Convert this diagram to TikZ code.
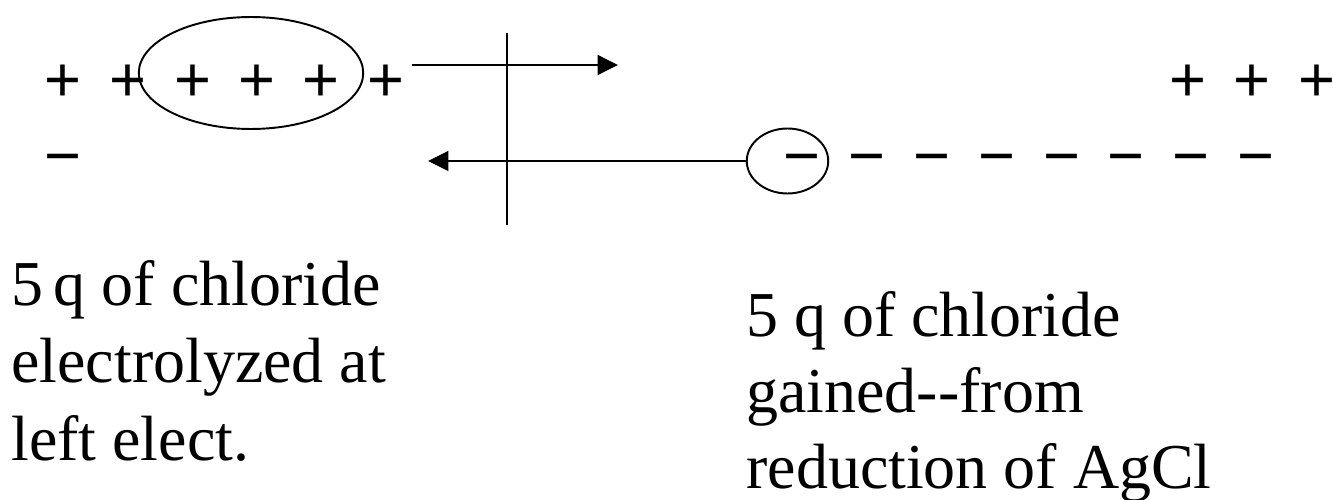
\documentclass[tikz,border=0pt]{standalone}
\usepackage{fontspec}
\setmainfont{Liberation Serif}
\newfontfamily\chargefont{Liberation Sans}
\usetikzlibrary{arrows.meta, shapes.geometric}

\begin{document}
\begin{tikzpicture}[x=0.02cm, y=-0.02cm,
    charge/.style={inner sep=0pt, anchor=base, font=\chargefont\fontsize{36}{40}\selectfont},
    ring/.style={draw, line width=1.1pt, ellipse, inner sep=0pt},
    flow/.style={line width=1.1pt, -{Triangle[length=0.41cm, width=0.4cm]}},
    note/.style={inner sep=0pt, align=left, anchor=base west}]
    \useasboundingbox (0,0) rectangle (1333,500);
    % charges (placed by baseline)
    \foreach \x [count=\i] in {63,128,193,257,321,386}
        \node[charge] (pl\i) at (\x,102) {+};
    \foreach \x [count=\i] in {1188,1252,1317}
        \node[charge] (pr\i) at (\x,102) {+};
    \node[charge] (ml) at (63,177.5) {−};
    \foreach \x [count=\i] in {802,867,932,997,1062,1126,1191,1256}
        \node[charge] (mr\i) at (\x,177.5) {−};
    % groups that move
    \node[ring, minimum width=4.49cm, minimum height=2.24cm] (grp) at (251,73) {};
    \node[ring, minimum width=1.63cm, minimum height=1.3cm] (one) at (787.5,161) {};
    % boundary and arrows
    \coordinate (top) at (507,33);
    \coordinate (bot) at (507,225);
    \draw[line width=1.1pt] (top) -- (bot);
    \coordinate (outA) at (412,65);
    \coordinate (outB) at (618,65);
    \draw[flow] (outA) -- (outB);
    \coordinate (inB) at (428,161);
    \draw[flow] (one.west) -- (inB);
    % texts (placed by last baseline)
    \node[note, font=\fontsize{36.4}{44.1}\selectfont] (lefttxt) at (11,460) {5\,q of chloride\\electrolyzed at\\left elect.};
    \node[note, font=\fontsize{36.4}{43}\selectfont] (righttxt) at (746,488) {5 q of chloride\\gained-{}-from\\reduction of AgCl};
\end{tikzpicture}
\end{document}
